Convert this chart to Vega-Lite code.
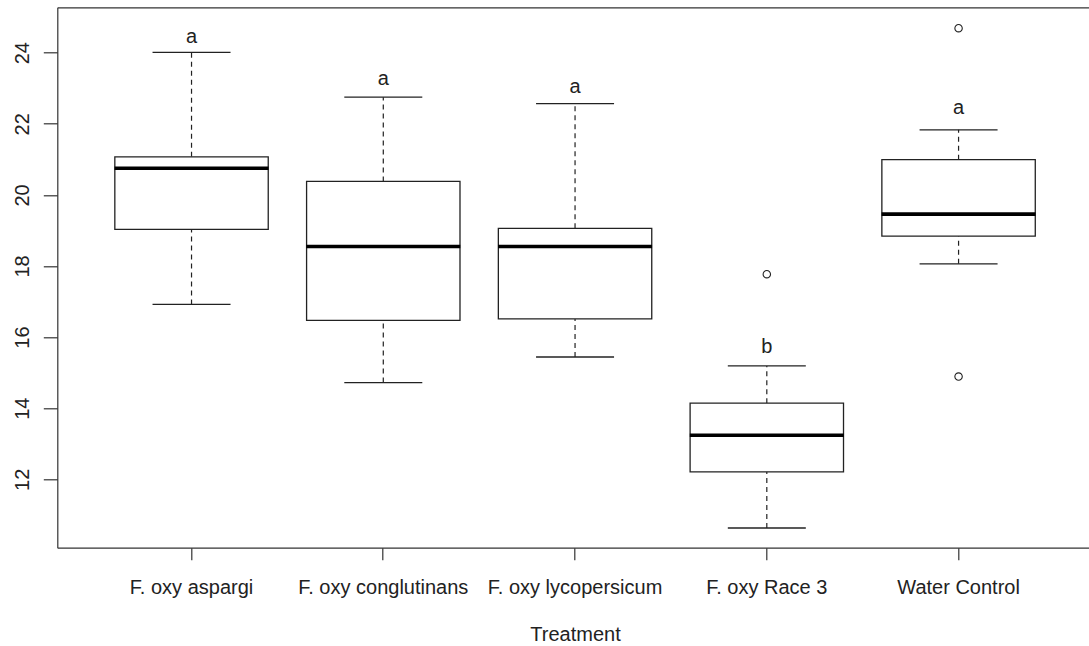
{
  "$schema": "https://vega.github.io/schema/vega-lite/v6.json",
  "width": 1031.7,
  "height": 540.4,
  "autosize": "none",
  "padding": {"left": 57.3, "top": 7.3, "right": 0, "bottom": 98.3},
  "background": "white",
  "config": {
    "view": {"stroke": null},
    "font": "Liberation Sans",
    "axis": {
      "grid": false,
      "domainColor": "#333333",
      "domainWidth": 1.2,
      "tickColor": "#333333",
      "tickWidth": 1.2,
      "labelColor": "#222222",
      "labelFont": "Liberation Sans",
      "labelFontSize": 20,
      "titleFont": "Liberation Sans",
      "titleFontSize": 20,
      "titleFontWeight": "normal",
      "titleColor": "#222222"
    }
  },
  "datasets": {
    "boxes": [
      {"treatment": "F. oxy aspargi", "lower": 16.92, "q1": 19.03, "median": 20.75, "q3": 21.07, "upper": 24.01, "letter": "a", "letter_y": 24.28},
      {"treatment": "F. oxy conglutinans", "lower": 14.72, "q1": 16.47, "median": 18.55, "q3": 20.38, "upper": 22.75, "letter": "a", "letter_y": 23.09},
      {"treatment": "F. oxy lycopersicum", "lower": 15.44, "q1": 16.51, "median": 18.55, "q3": 19.06, "upper": 22.57, "letter": "a", "letter_y": 22.875},
      {"treatment": "F. oxy Race 3", "lower": 10.63, "q1": 12.21, "median": 13.24, "q3": 14.14, "upper": 15.19, "letter": "b", "letter_y": 15.54},
      {"treatment": "Water Control", "lower": 18.06, "q1": 18.84, "median": 19.46, "q3": 20.99, "upper": 21.83, "letter": "a", "letter_y": 22.28}
    ],
    "outliers": [
      {"treatment": "F. oxy Race 3", "value": 17.77},
      {"treatment": "Water Control", "value": 24.69},
      {"treatment": "Water Control", "value": 14.89}
    ]
  },
  "layer": [
    {
      "data": {"name": "boxes"},
      "mark": {"type": "rule", "color": "#222222", "strokeWidth": 1.2, "strokeDash": [5, 4]},
      "encoding": {
        "x": {
          "field": "treatment", "type": "nominal", "sort": null,
          "scale": {"type": "band", "domain": ["F. oxy aspargi", "F. oxy conglutinans", "F. oxy lycopersicum", "F. oxy Race 3", "Water Control"], "range": [0, 1035.5], "paddingInner": 0, "paddingOuter": 0.2},
          "axis": {"orient": "bottom", "title": "Treatment", "labelAngle": 0, "tickSize": 12, "labelPadding": 33.6, "labelBaseline": "alphabetic", "titleBaseline": "alphabetic", "titleY": 92.3}
        },
        "y": {
          "field": "q3", "type": "quantitative",
          "scale": {"domain": [10.076, 25.277], "nice": false, "zero": false},
          "axis": {"orient": "left", "title": null, "values": [12, 14, 16, 18, 20, 22, 24], "tickSize": 14, "labelPadding": 15, "labelAngle": -90, "labelAlign": "center", "labelBaseline": "alphabetic"}
        },
        "y2": {"field": "upper"}
      }
    },
    {
      "data": {"name": "boxes"},
      "mark": {"type": "rule", "color": "#222222", "strokeWidth": 1.2, "strokeDash": [5, 4]},
      "encoding": {
        "x": {"field": "treatment", "type": "nominal", "sort": null, "axis": null},
        "y": {"field": "lower", "type": "quantitative"},
        "y2": {"field": "q1"}
      }
    },
    {
      "data": {"name": "boxes"},
      "mark": {"type": "bar", "fill": "white", "stroke": "#222222", "strokeWidth": 1.3, "width": {"band": 0.8}},
      "encoding": {
        "x": {"field": "treatment", "type": "nominal", "sort": null, "axis": null},
        "y": {"field": "q1", "type": "quantitative"},
        "y2": {"field": "q3"}
      }
    },
    {
      "data": {"name": "boxes"},
      "mark": {"type": "tick", "color": "#000000", "size": 154, "thickness": 3.6, "opacity": 1},
      "encoding": {
        "x": {"field": "treatment", "type": "nominal", "sort": null, "axis": null},
        "y": {"field": "median", "type": "quantitative"}
      }
    },
    {
      "data": {"name": "boxes"},
      "mark": {"type": "tick", "color": "#222222", "size": 78, "thickness": 1.3, "opacity": 1},
      "encoding": {
        "x": {"field": "treatment", "type": "nominal", "sort": null, "axis": null},
        "y": {"field": "upper", "type": "quantitative"}
      }
    },
    {
      "data": {"name": "boxes"},
      "mark": {"type": "tick", "color": "#222222", "size": 78, "thickness": 1.3, "opacity": 1},
      "encoding": {
        "x": {"field": "treatment", "type": "nominal", "sort": null, "axis": null},
        "y": {"field": "lower", "type": "quantitative"}
      }
    },
    {
      "data": {"name": "outliers"},
      "mark": {"type": "point", "shape": "circle", "filled": false, "size": 55, "stroke": "#222222", "strokeWidth": 1.1, "opacity": 1},
      "encoding": {
        "x": {"field": "treatment", "type": "nominal", "sort": null, "axis": null},
        "y": {"field": "value", "type": "quantitative"}
      }
    },
    {
      "data": {"name": "boxes"},
      "mark": {"type": "text", "fontSize": 20, "font": "Liberation Sans", "color": "#222222", "align": "center", "baseline": "alphabetic"},
      "encoding": {
        "x": {"field": "treatment", "type": "nominal", "sort": null, "axis": {"orient": "top", "labels": false, "ticks": false, "title": null, "domain": true}},
        "y": {"field": "letter_y", "type": "quantitative"},
        "text": {"field": "letter"}
      }
    }
  ]
}
